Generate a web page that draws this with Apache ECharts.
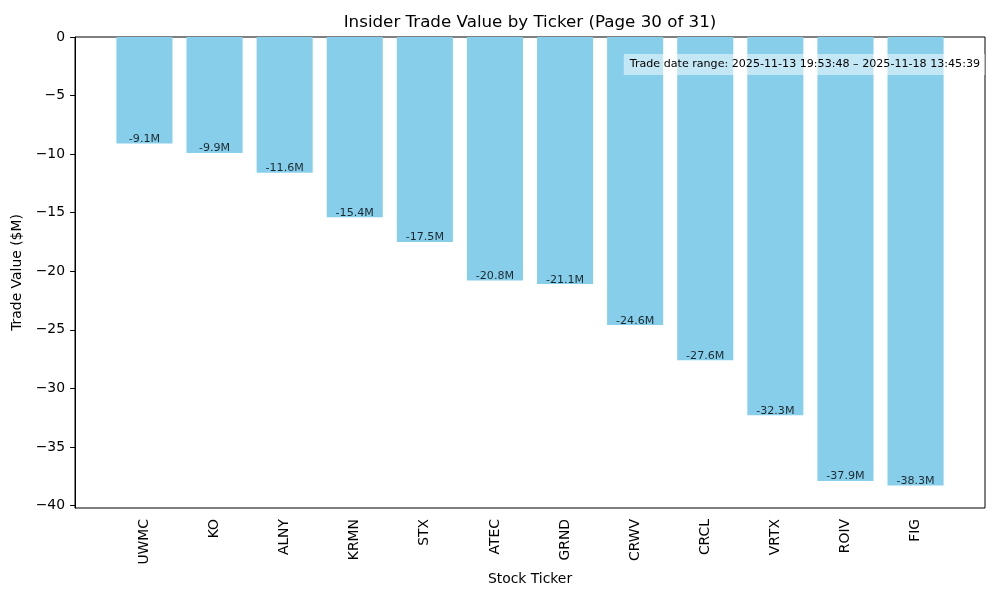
<!DOCTYPE html>
<html>
<head>
<meta charset="utf-8">
<script src="https://cdn.jsdelivr.net/npm/echarts@6/dist/echarts.min.js"></script>
<style>html,body{margin:0;padding:0;background:#fff}#c{width:1000px;height:600px}</style>
</head>
<body>
<div id="c"></div>
<script>
const categories = ['UWMC','KO','ALNY','KRMN','STX','ATEC','GRND','CRWV','CRCL','VRTX','ROIV','FIG'];
const values = [-9.1,-9.9,-11.6,-15.4,-17.5,-20.8,-21.1,-24.6,-27.6,-32.3,-37.9,-38.3];
const yTicks = [0,-5,-10,-15,-20,-25,-30,-35,-40];
const titleText = 'Insider Trade Value by Ticker (Page 30 of 31)';
const noteText = 'Trade date range: 2025-11-13 19:53:48 \u2013 2025-11-18 13:45:39';

const FONT = 'DejaVu Sans';
const yMin = -40.215, yMax = 0;
const chart = echarts.init(document.getElementById('c'), null, {renderer:'canvas'});
chart.setOption({
  animation:false,
  backgroundColor:'#fff',
  grid:[
    {left:75, right:15, top:37, bottom:92, show:true, borderColor:'#000', borderWidth:1, backgroundColor:'transparent'},
    {left:109.4, width:841.2, top:37, bottom:92}
  ],
  xAxis:[
    {gridIndex:0, type:'value', show:false, min:0, max:1},
    {gridIndex:1, type:'category', data:categories,
      axisLine:{show:false},
      axisTick:{show:true, alignWithLabel:true, length:4.9, lineStyle:{color:'#000', width:1}},
      axisLabel:{rotate:90, margin:11, color:'#000', fontFamily:FONT, fontSize:13.9, interval:0},
      name:'Stock Ticker', nameLocation:'middle', nameGap:63,
      nameTextStyle:{color:'#000', fontFamily:FONT, fontSize:13.9}
    }
  ],
  yAxis:[
    {gridIndex:0, type:'value', min:yMin, max:yMax,
      axisLine:{show:true, lineStyle:{color:'#000', width:1}},
      axisTick:{show:true, length:4.9, lineStyle:{color:'#000'}, customValues:yTicks},
      axisLabel:{color:'#000', fontFamily:FONT, fontSize:13.9, margin:10,
        customValues:yTicks,
        formatter:v => v < 0 ? '\u2212' + Math.abs(v) : String(v)},
      splitLine:{show:false},
      name:'Trade Value ($M)', nameLocation:'middle', nameGap:45,
      nameTextStyle:{color:'#000', fontFamily:FONT, fontSize:13.9}
    },
    {gridIndex:1, type:'value', min:yMin, max:yMax, show:false, splitLine:{show:false}}
  ],
  series:[
    {type:'bar', xAxisIndex:1, yAxisIndex:1, data:values, barWidth:'80%',
      itemStyle:{color:'#87CEEB'}, z:2},
    {type:'scatter', xAxisIndex:1, yAxisIndex:1, data:values, symbolSize:1,
      itemStyle:{color:'rgba(0,0,0,0)'}, z:3, silent:true,
      label:{show:true, position:'top', distance:-1.5, color:'#000', fontFamily:FONT, fontSize:11.1,
        formatter:p => p.value.toFixed(1) + 'M'}
    }
  ],
  graphic:[
    {type:'text', x:530, y:14, style:{text:titleText, fill:'#000', font:'16.7px "DejaVu Sans"', textAlign:'center', textVerticalAlign:'top'}, z:10},
    {type:'text', right:15, top:54, z:10,
      style:{text:noteText, fill:'#000', font:'11.1px "DejaVu Sans"', backgroundColor:'rgba(255,255,255,0.5)', padding:[5,5,5,6]}}
  ]
});
</script>
</body>
</html>
